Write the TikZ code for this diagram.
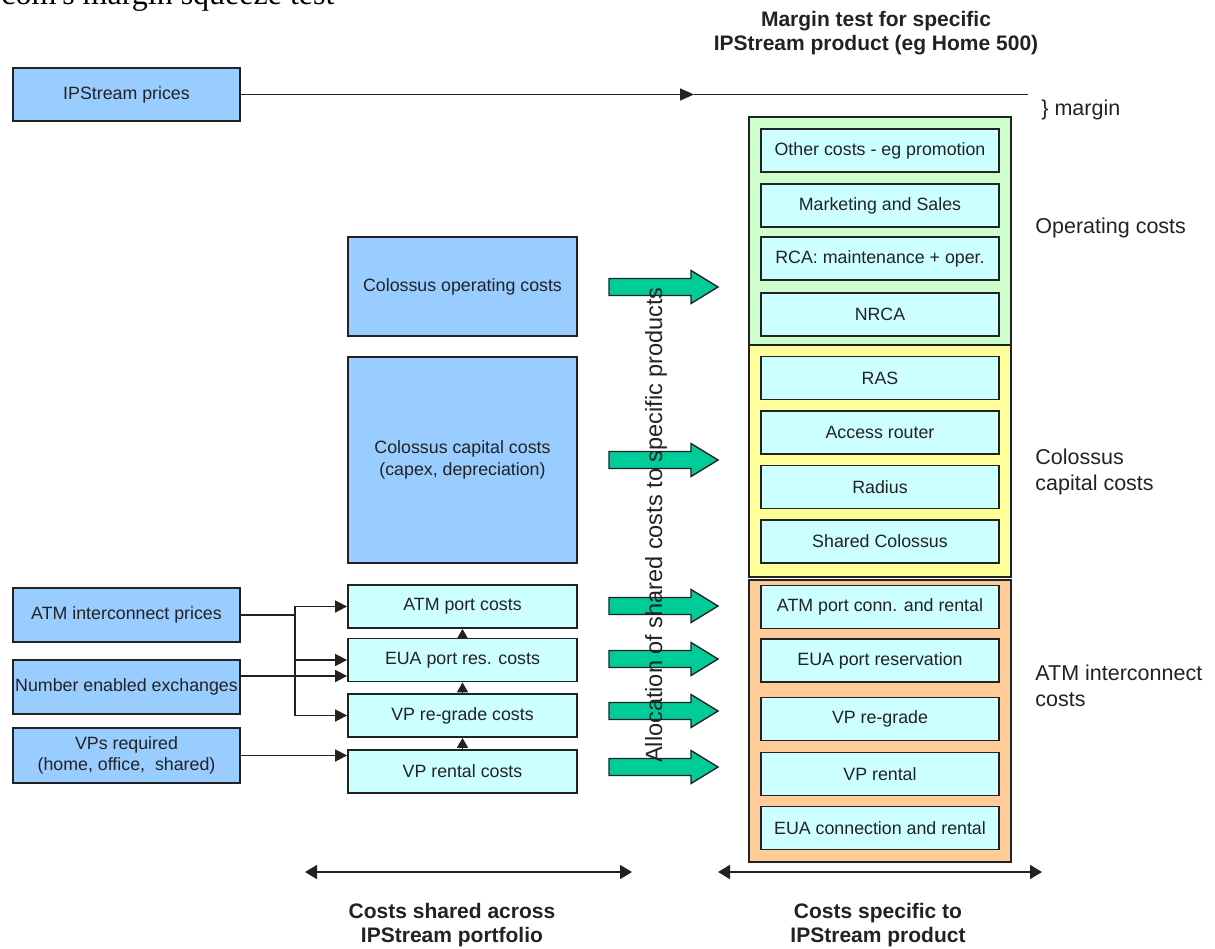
\documentclass[tikz,border=0pt]{standalone}
\usepackage{fontspec}
\setmainfont{Liberation Sans}
\newfontfamily\seriffont{Liberation Serif}
\usetikzlibrary{arrows.meta}
\definecolor{lblue}{HTML}{99CCFF}
\definecolor{lcyan}{HTML}{CCFFFF}
\definecolor{lgreen}{HTML}{CCFFCC}
\definecolor{lyellow}{HTML}{FFFF99}
\definecolor{lorange}{HTML}{FFCC99}
\definecolor{agreen}{HTML}{00CC99}
\definecolor{ink}{HTML}{222222}
\begin{document}
\begin{tikzpicture}[x=0.5pt,y=-0.5pt,
  bx/.style={draw=ink, line width=0.9pt, inner sep=0pt, align=center, text=ink,
    font=\fontsize{8.9pt}{10.8pt}\selectfont},
  bluebox/.style={bx, fill=lblue, minimum width=113.5pt},
  midbox/.style={bx, fill=lcyan, minimum width=114.5pt, minimum height=21.5pt},
  ibox/.style={bx, fill=lcyan, minimum width=119pt, minimum height=21.5pt},
  outerbox/.style={draw=ink, line width=0.9pt, inner sep=0pt, minimum width=131pt},
  conn/.style={draw=ink, line width=0.8pt, -{Triangle[length=6pt,width=6pt]}},
  plain/.style={draw=ink, line width=0.8pt},
  dbl/.style={draw=ink, line width=0.8pt, {Triangle[length=6pt,width=7pt]}-{Triangle[length=6pt,width=7pt]}},
  sidelabel/.style={anchor=west, inner sep=0pt, align=left, text=ink,
    font=\fontsize{10.75pt}{13pt}\selectfont},
  heading/.style={inner sep=0pt, align=center, text=ink,
    font=\bfseries\fontsize{10.5pt}{11.8pt}\selectfont},
  garrow/.pic={\draw[draw=ink, fill=agreen, line width=0.7pt]
    (0,-8.5) -- (82,-8.5) -- (82,-16.5) -- (109,0) -- (82,16.5) -- (82,8.5) -- (0,8.5) -- cycle;}
]
\useasboundingbox (0,0) rectangle (1215,948);

% cut-off heading at the very top
\begin{scope}
\clip (0,0) rectangle (1215,948);
\node[anchor=base west, inner sep=0pt, font=\seriffont\fontsize{16pt}{16pt}\selectfont] (top) at (1,4) {com's margin squeeze test};
\end{scope}

% headings
\node[heading] (title) at (876,33) {Margin test for specific\\IPStream product (eg Home 500)};
\node[heading] (shared) at (452,925) {Costs shared across\\IPStream portfolio};
\node[heading] (specific) at (878,925) {Costs specific to\\IPStream product};

% left input boxes
\node[bluebox, minimum height=26.5pt] (ip) at (126.5,94.5) {IPStream prices};
\node[bluebox, minimum height=27pt] (atmp) at (126.5,615) {ATM interconnect prices};
\node[bluebox, minimum height=27pt] (nee) at (126.5,687) {Number enabled exchanges};
\node[bluebox, minimum height=27.5pt] (vps) at (126.5,755.5) {VPs required\\(home, office,\ \ shared)};

% middle boxes
\node[bx, fill=lblue, minimum width=114.5pt, minimum height=49.5pt] (colop) at (462.5,286.5) {Colossus operating costs};
\node[bx, fill=lblue, minimum width=114.5pt, minimum height=103pt] (colcap) at (462.5,460) {Colossus capital costs\\(capex, depreciation)};
\node[midbox] (atmport) at (462.5,606.5) {ATM port costs};
\node[midbox] (eua) at (462.5,660) {EUA port res. costs};
\node[midbox] (vpr) at (462.5,715.5) {VP re-grade costs};
\node[midbox] (vprent) at (462.5,771.5) {VP rental costs};

% right outer boxes
\node[outerbox, fill=lgreen, minimum height=114pt] (green) at (880,231) {};
\node[outerbox, fill=lyellow, minimum height=116pt] (yellow) at (880,461) {};
\node[outerbox, fill=lorange, minimum height=141pt] (orange) at (880,721) {};

% right inner boxes
\node[ibox] (other) at (880,150.5) {Other costs - eg promotion};
\node[ibox] (mkt) at (880,205.5) {Marketing and Sales};
\node[ibox] (rca) at (880,258.5) {RCA: maintenance + oper.};
\node[ibox] (nrca) at (880,314.5) {NRCA};
\node[ibox] (ras) at (880,378) {RAS};
\node[ibox] (acc) at (880,432.5) {Access router};
\node[ibox] (rad) at (880,487) {Radius};
\node[ibox] (shc) at (880,541.5) {Shared Colossus};
\node[ibox] (atmconn) at (880,607) {ATM port conn. and rental};
\node[ibox] (euares) at (880,660.5) {EUA port reservation};
\node[ibox] (vpreg) at (880,719) {VP re-grade};
\node[ibox] (vprental) at (880,774) {VP rental};
\node[ibox] (euaconn) at (880,828) {EUA connection and rental};

% side labels
\node[sidelabel] (marg) at (1041,110) {\} margin};
\node[sidelabel] (opc) at (1035,228) {Operating costs};
\node[sidelabel] (ccc) at (1035,472) {Colossus\\capital costs};
\node[sidelabel] (aic) at (1035,686) {ATM interconnect\\costs};

% IPStream price line
\coordinate (pmid) at (694,94.5);
\coordinate (pend) at (1028,94.5);
\draw[conn, -{Triangle[length=7pt,width=6pt]}] (ip.east) -- (pmid);
\draw[plain] (pmid) -- (pend);

% left connectors
\coordinate (j) at (295,615);
\draw[plain] (atmp.east) -- (j);
\draw[conn] (j) |- (atmport.west);
\draw[conn] (j) |- (eua.west);
\draw[conn] (j) |- (vpr.west);
\coordinate (nl) at ([yshift=5.5pt]nee.east);
\draw[conn] (nl) -- (nl -| eua.west);
\draw[conn] (vps.east) -- (vps.east -| vprent.west);

% upward arrows between middle boxes
\draw[draw=ink, line width=0.8pt, -{Triangle[length=5pt,width=5.5pt]}] (vprent.north) -- (vpr.south);
\draw[draw=ink, line width=0.8pt, -{Triangle[length=5pt,width=5.5pt]}] (vpr.north) -- (eua.south);
\draw[draw=ink, line width=0.8pt, -{Triangle[length=5pt,width=5.5pt]}] (eua.north) -- (atmport.south);

% green allocation arrows
\pic at (609,287) {garrow};
\pic at (609,460) {garrow};
\pic at (609,606) {garrow};
\pic at (609,659) {garrow};
\pic at (609,711) {garrow};
\pic at (609,767) {garrow};

% rotated label
\node[rotate=90, inner sep=0pt, text=ink, font=\fontsize{11.75pt}{14pt}\selectfont] (alloc) at (656,525) {Allocation of shared costs to specific products};

% bottom double arrows
\coordinate (la) at (305,872);
\coordinate (lb) at (632,872);
\coordinate (ra) at (718,872);
\coordinate (rb) at (1042,872);
\draw[dbl] (la) -- (lb);
\draw[dbl] (ra) -- (rb);
\end{tikzpicture}
\end{document}
